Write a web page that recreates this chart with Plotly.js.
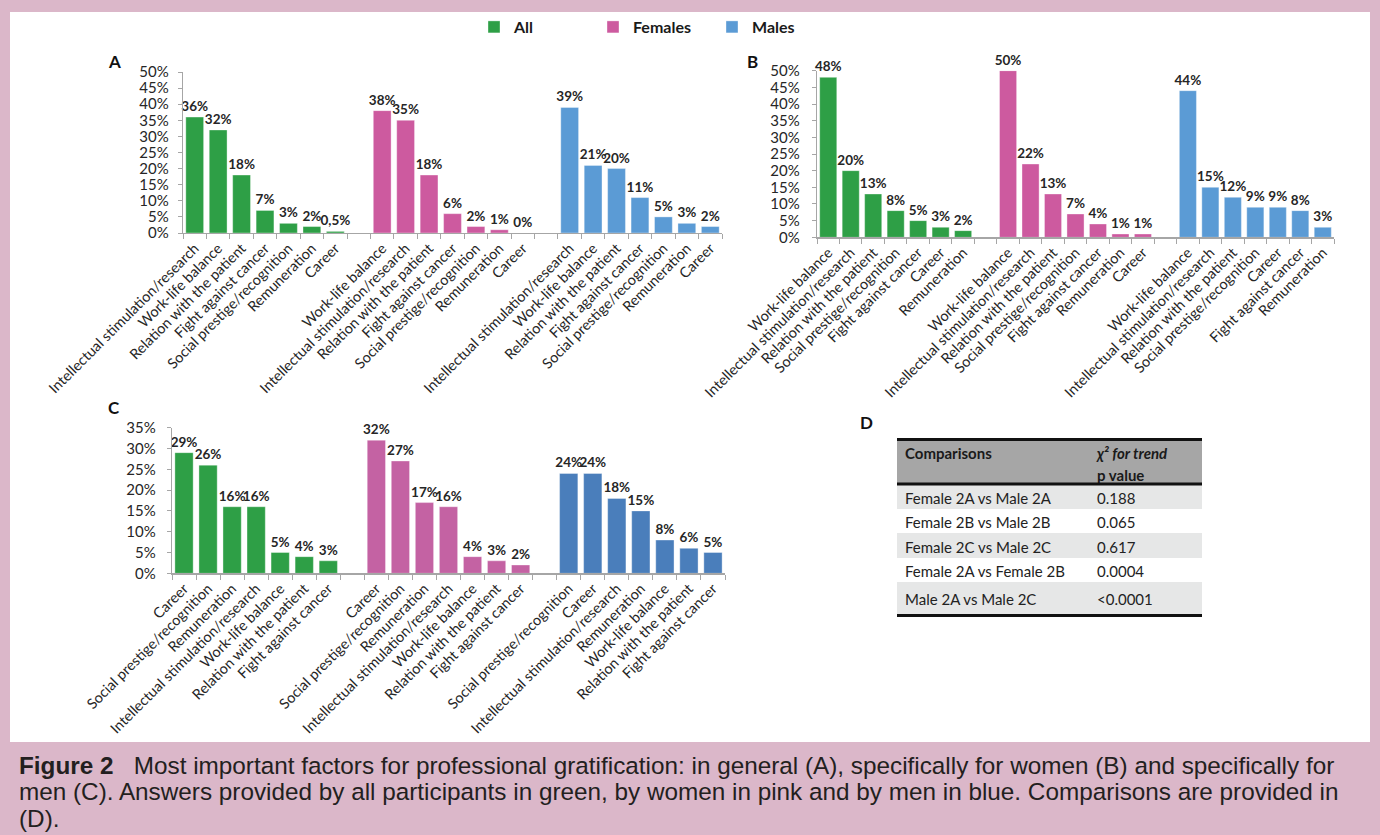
<!DOCTYPE html>
<html>
<head>
<meta charset="utf-8">
<script src="https://cdn.plot.ly/plotly-3.0.1.min.js"></script>
<style>
html,body{margin:0;padding:0;background:#dbb7c9;}
#chart{width:1380px;height:835px;}
</style>
</head>
<body>
<div id="chart"></div>
<script>
// ---------- DATA ----------
// Panel A: in general
const catsA_all  = ["Intellectual stimulation/research","Work-life balance","Relation with the patient","Fight against cancer","Social prestige/recognition","Remuneration","Career"];
const valsA_all  = [36, 32, 18, 7, 3, 2, 0.5];
const catsA_fem  = ["Work-life balance","Intellectual stimulation/research","Relation with the patient","Fight against cancer","Social prestige/recognition","Remuneration","Career"];
const valsA_fem  = [38, 35, 18, 6, 2, 1, 0];
const catsA_male = ["Intellectual stimulation/research","Work-life balance","Relation with the patient","Fight against cancer","Social prestige/recognition","Remuneration","Career"];
const valsA_male = [39, 21, 20, 11, 5, 3, 2];

// Panel B: specifically for women
const catsB_all  = ["Work-life balance","Intellectual stimulation/research","Relation with the patient","Social prestige/recognition","Fight against cancer","Career","Remuneration"];
const valsB_all  = [48, 20, 13, 8, 5, 3, 2];
const catsB_fem  = ["Work-life balance","Intellectual stimulation/research","Relation with the patient","Social prestige/recognition","Fight against cancer","Remuneration","Career"];
const valsB_fem  = [50, 22, 13, 7, 4, 1, 1];
const catsB_male = ["Work-life balance","Intellectual stimulation/research","Relation with the patient","Social prestige/recognition","Career","Fight against cancer","Remuneration"];
const valsB_male = [44, 15, 12, 9, 9, 8, 3];

// Panel C: specifically for men
const catsC_all  = ["Career","Social prestige/recognition","Remuneration","Intellectual stimulation/research","Work-life balance","Relation with the patient","Fight against cancer"];
const valsC_all  = [29, 26, 16, 16, 5, 4, 3];
const catsC_fem  = ["Career","Social prestige/recognition","Remuneration","Intellectual stimulation/research","Work-life balance","Relation with the patient","Fight against cancer"];
const valsC_fem  = [32, 27, 17, 16, 4, 3, 2];
const catsC_male = ["Social prestige/recognition","Career","Intellectual stimulation/research","Remuneration","Work-life balance","Relation with the patient","Fight against cancer"];
const valsC_male = [24, 24, 18, 15, 8, 6, 5];

// Panel D: comparisons table (two header rows per column)
const tableHeader      = [["Comparisons", ""], ["χ² for trend", "p value"]];
const tableComparisons = ["Female 2A vs Male 2A","Female 2B vs Male 2B","Female 2C vs Male 2C","Female 2A vs Female 2B","Male 2A vs Male 2C"];
const tablePValues     = ["0.188","0.065","0.617","0.0004","&lt;0.0001"];

const seriesNames = ["All", "Females", "Males"];
const captionLines = [
  "<b>Figure 2</b>\u00a0\u00a0\u00a0Most important factors for professional gratification: in general (A), specifically for women (B) and specifically for",
  "men (C). Answers provided by all participants in green, by women in pink and by men in blue. Comparisons are provided in",
  "(D)."
];

// ---------- STYLE ----------
const W = 1380, H = 835;
const px = v => v / W;
const py = v => 1 - v / H;
const GREEN = "#2e9f46", PINK = "#cd5a9f", BLUE = "#5b9bd5";
const PINK_C = "#c462a3", BLUE_C = "#4a7ebb";
const AXIS = "#a6a6a6";
const TXT = "#262626";
const FONT = "Lato, 'Open Sans', sans-serif";

const fmt = v => (v % 1 ? String(v).replace(".", ",") : String(v)) + "%";

function buildPanel(key, groups, xa, ya, legend) {
  const ids = [], labels = [];
  const traces = groups.map((g, gi) => {
    const xs = g.cats.map(c => key + gi + "|" + c);
    xs.forEach((id, i) => { ids.push(id); labels.push(g.cats[i]); });
    if (gi < groups.length - 1) { ids.push(key + "gap" + gi); labels.push(""); }
    return {
      type: "bar", x: xs, y: g.vals, xaxis: xa, yaxis: ya,
      name: g.name, showlegend: legend, legendgroup: g.name,
      marker: {color: g.color, line: {color: "rgba(255,255,255,0.6)", width: 0.6}},
      text: g.vals.map(fmt), textposition: "outside", constraintext: "none",
      cliponaxis: false,
      textfont: {family: FONT, size: 13.5, color: TXT, weight: "bold"},
      hoverinfo: "skip"
    };
  });
  return {traces, ids, labels};
}

const pA = buildPanel("A", [
  {cats: catsA_all, vals: valsA_all, color: GREEN, name: seriesNames[0]},
  {cats: catsA_fem, vals: valsA_fem, color: PINK, name: seriesNames[1]},
  {cats: catsA_male, vals: valsA_male, color: BLUE, name: seriesNames[2]}
], "x", "y", true);
const pB = buildPanel("B", [
  {cats: catsB_all, vals: valsB_all, color: GREEN, name: seriesNames[0]},
  {cats: catsB_fem, vals: valsB_fem, color: PINK, name: seriesNames[1]},
  {cats: catsB_male, vals: valsB_male, color: BLUE, name: seriesNames[2]}
], "x2", "y2", false);
const pC = buildPanel("C", [
  {cats: catsC_all, vals: valsC_all, color: GREEN, name: seriesNames[0]},
  {cats: catsC_fem, vals: valsC_fem, color: PINK_C, name: seriesNames[1]},
  {cats: catsC_male, vals: valsC_male, color: BLUE_C, name: seriesNames[2]}
], "x3", "y3", false);

function xAxis(domain, anchor, p) {
  return {
    domain, anchor, type: "category", categoryorder: "array", categoryarray: p.ids,
    range: [-0.5, p.ids.length - 0.5],
    tickmode: "array", tickvals: p.ids, ticktext: p.labels, tickson: "boundaries",
    ticks: "outside", ticklen: 5, tickcolor: AXIS, showline: true, linecolor: AXIS, linewidth: 1.2,
    tickangle: -45, tickfont: {family: FONT, size: 14.5, color: TXT},
    showgrid: false, zeroline: false, fixedrange: true
  };
}
function yAxis(domain, anchor, max, standoff) {
  return {
    domain, anchor, range: [0, max], tick0: 0, dtick: 5, ticksuffix: "%",
    ticks: "outside", ticklen: 4, tickcolor: AXIS, showline: true, linecolor: AXIS, linewidth: 1.2,
    showgrid: false, zeroline: false, fixedrange: true, ticklabelstandoff: standoff,
    tickfont: {family: FONT, size: 15, color: TXT}
  };
}

// rows whose p value holds an HTML entity are laid out as markup: keep both cells of that row aligned
const rowHasMarkup = tablePValues.map(v => /[&<]/.test(v));
const compCells = tableComparisons.map((t, i) => rowHasMarkup[i] ? "<span>" + t + "</span>" : t);
const rowFill = tableComparisons.map((_, i) => i % 2 === 0 ? "#e6e7e7" : "#ffffff");
const table = {
  type: "table",
  domain: {x: [px(897), px(1202)], y: [py(625), py(439.5)]},
  columnwidth: [192, 113],
  header: {
    values: tableHeader, align: "left", height: 22.5,
    fill: {color: "#a6a6a6"}, line: {width: 0, color: "#a6a6a6"},
    font: {family: FONT, size: 15, color: "#1a1a1a", weight: "bold",
      style: [["normal", "normal"], ["italic", "normal"]]}
  },
  cells: {
    values: [compCells, tablePValues], align: "left", height: 24.4,
    fill: {color: [rowFill, rowFill]}, line: {width: 0, color: "#ffffff"},
    font: {family: FONT, size: 15, color: "#222222"}
  }
};

const letter = (t, x, y) => ({text: "<b>" + t + "</b>", x: px(x), y: py(y), xref: "paper", yref: "paper",
  showarrow: false, xanchor: "center", yanchor: "middle", font: {family: FONT, size: 17, color: "#111"}});

const annotations = [
  letter("A", 114, 62), letter("B", 753, 62), letter("C", 114, 407), letter("D", 866, 422)
].concat(captionLines.map((t, i) => ({
  text: t, x: px(17), y: py(765 + i * 26.5), xref: "paper", yref: "paper", showarrow: false,
  xanchor: "left", yanchor: "middle", align: "left",
  font: {family: "'Liberation Sans', Arial, sans-serif", size: 24.3, color: "#231f20"}
})));

const thick = y => ({type: "line", xref: "paper", yref: "paper", x0: px(897), x1: px(1202), y0: py(y), y1: py(y),
  line: {color: "#111", width: 3}});

const layout = {
  width: W, height: H,
  margin: {l: 0, r: 0, t: 0, b: 0, pad: 0},
  paper_bgcolor: "#dbb7c9", plot_bgcolor: "rgba(0,0,0,0)",
  barmode: "overlay", bargap: 0.24,
  font: {family: FONT, color: TXT},
  showlegend: true,
  legend: {orientation: "h", x: px(474), y: py(27), xanchor: "left", yanchor: "middle",
    entrywidth: 74, entrywidthmode: "pixels",
    font: {family: FONT, size: 16, color: "#1a1a1a", weight: "bold"}, bgcolor: "rgba(0,0,0,0)"},
  xaxis:  xAxis([px(183), px(722)], "y", pA),
  yaxis:  yAxis([py(233), py(72)], "x", 50, 6),
  xaxis2: xAxis([px(817), px(1334)], "y2", pB),
  yaxis2: yAxis([py(237.3), py(70.7)], "x2", 50, 9),
  xaxis3: xAxis([px(172), px(725)], "y3", pC),
  yaxis3: yAxis([py(573.3), py(427.7)], "x3", 35, 8),
  shapes: [
    {type: "rect", xref: "paper", yref: "paper", x0: px(10), x1: px(1370), y0: py(742), y1: py(12),
      fillcolor: "#ffffff", line: {width: 0}, layer: "below"},
    thick(439.5), thick(484), thick(615.5)
  ],
  annotations
};

Plotly.newPlot("chart", [...pA.traces, ...pB.traces, ...pC.traces, table], layout,
  {displayModeBar: false, staticPlot: true});
</script>
</body>
</html>
